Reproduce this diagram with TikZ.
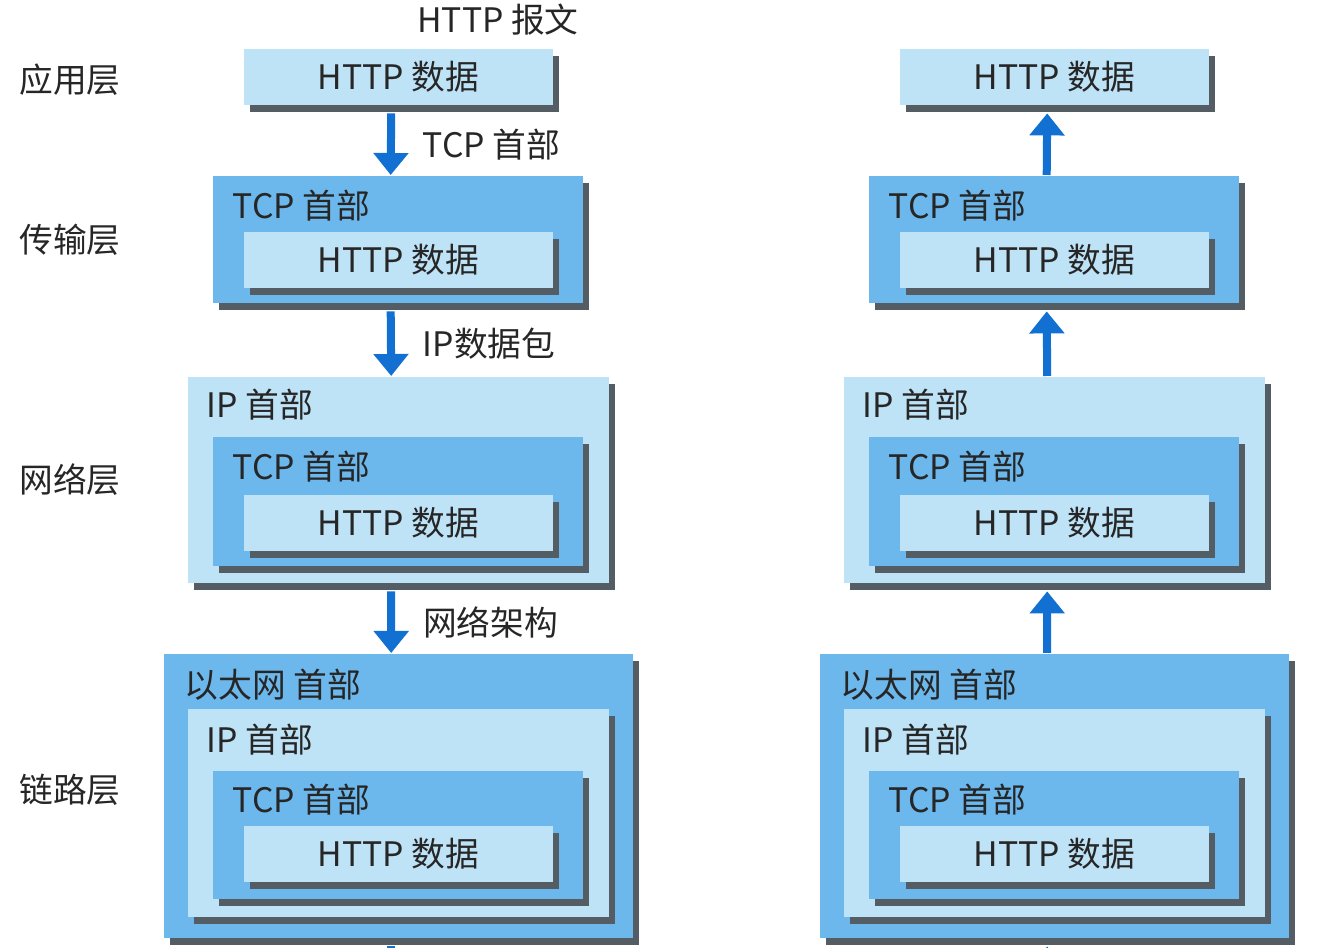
\documentclass[tikz,border=0pt]{standalone}
\usepackage{fontspec}
\setmainfont{Noto Sans CJK SC}
\usetikzlibrary{arrows.meta}
\usetikzlibrary{shadows}

\definecolor{pktlight}{RGB}{190,226,246}
\definecolor{pktmid}{RGB}{108,184,236}
\definecolor{pktshadow}{RGB}{84,92,100}
\definecolor{pktarrow}{RGB}{18,112,210}
\definecolor{pkttext}{RGB}{38,38,38}
\newcommand{\pktfont}{\fontsize{9.6pt}{11pt}\selectfont}

\begin{document}
\begin{tikzpicture}[
  pkt/.style={anchor=north west, inner sep=0pt, text=pkttext, font=\pktfont,
    drop shadow={shadow xshift=0.06cm, shadow yshift=-0.07cm, fill=pktshadow, opacity=1}},
  light/.style={pkt, fill=pktlight},
  mid/.style={pkt, fill=pktmid},
  httpbox/.style={light, minimum width=3.09cm, minimum height=0.56cm},
  tcpbox/.style={mid, minimum width=3.70cm},
  ipbox/.style={light, minimum width=4.21cm},
  txt/.style={inner sep=0pt, text=pkttext, font=\pktfont},
  hdr/.style={txt, anchor=west},
  flow/.style={pktarrow, line width=0.08cm, -{Triangle[width=0.34cm,length=0.22cm]}}
]
\useasboundingbox (0,0) rectangle (13.22,-9.48);
\clip (0,0) rectangle (13.22,-9.48);

% layer names
\node[txt] (lblapp) at (0.70,-0.80) {应用层};
\node[txt] (lbltrans) at (0.70,-2.40) {传输层};
\node[txt] (lblnet) at (0.70,-4.80) {网络层};
\node[txt] (lbllink) at (0.70,-7.90) {链路层};
\node[txt] (title) at (4.98,-0.20) {HTTP 报文};

% sender (L) and receiver (R)
\foreach \s/\dx in {L/0,R/6.56}{
\begin{scope}[xshift=\dx cm]
% application
\node[httpbox] (app\s) at (2.43,-0.48) {HTTP 数据};
% transport
\node[tcpbox, minimum height=1.27cm] (tcp\s2) at (2.12,-1.75) {};
\node[httpbox] (http\s2) at (2.43,-2.31) {HTTP 数据};
\node[hdr] at ([xshift=0.20cm,yshift=-0.31cm]tcp\s2.north west) {TCP 首部};
% network
\node[ipbox, minimum height=2.06cm] (ip\s3) at (1.87,-3.76) {};
\node[tcpbox, minimum height=1.29cm] (tcp\s3) at (2.12,-4.36) {};
\node[httpbox] (http\s3) at (2.43,-4.94) {HTTP 数据};
\node[hdr] at ([xshift=0.19cm,yshift=-0.29cm]ip\s3.north west) {IP 首部};
\node[hdr] at ([xshift=0.20cm,yshift=-0.31cm]tcp\s3.north west) {TCP 首部};
% link
\node[mid, minimum width=4.69cm, minimum height=2.84cm] (eth\s4) at (1.63,-6.53) {};
\node[ipbox, minimum height=2.08cm] (ip\s4) at (1.87,-7.08) {};
\node[tcpbox, minimum height=1.28cm] (tcp\s4) at (2.12,-7.70) {};
\node[httpbox] (http\s4) at (2.43,-8.25) {HTTP 数据};
\node[hdr] at ([xshift=0.21cm,yshift=-0.32cm]eth\s4.north west) {以太网 首部};
\node[hdr] at ([xshift=0.19cm,yshift=-0.32cm]ip\s4.north west) {IP 首部};
\node[hdr] at ([xshift=0.20cm,yshift=-0.30cm]tcp\s4.north west) {TCP 首部};
\end{scope}
}

% down the stack
\draw[flow] ([xshift=-0.07cm,yshift=-0.08cm]appL.south) -- ([xshift=-0.07cm]tcpL2.north)
  node[txt, midway, anchor=west, xshift=0.28cm] {TCP 首部};
\draw[flow] ([xshift=-0.07cm,yshift=-0.08cm]tcpL2.south) -- ([xshift=-0.07cm]ipL3.north)
  node[txt, midway, anchor=west, xshift=0.28cm] {IP数据包};
\draw[flow] ([xshift=-0.07cm,yshift=-0.08cm]ipL3.south) -- ([xshift=-0.07cm]ethL4.north)
  node[txt, midway, anchor=west, xshift=0.28cm] {网络架构};
\coordinate (wireL) at ([xshift=-0.07cm,yshift=-0.70cm]ethL4.south);
\draw[flow] ([xshift=-0.07cm,yshift=-0.08cm]ethL4.south) -- (wireL);

% up the stack
\coordinate (wireR) at ([xshift=-0.07cm,yshift=-0.70cm]ethR4.south);
\draw[flow] (wireR) -- ([xshift=-0.07cm,yshift=-0.08cm]ethR4.south);
\draw[flow] ([xshift=-0.07cm]ethR4.north) -- ([xshift=-0.07cm,yshift=-0.08cm]ipR3.south);
\draw[flow] ([xshift=-0.07cm]ipR3.north) -- ([xshift=-0.07cm,yshift=-0.08cm]tcpR2.south);
\draw[flow] ([xshift=-0.07cm]tcpR2.north) -- ([xshift=-0.07cm,yshift=-0.08cm]appR.south);
\end{tikzpicture}
\end{document}
